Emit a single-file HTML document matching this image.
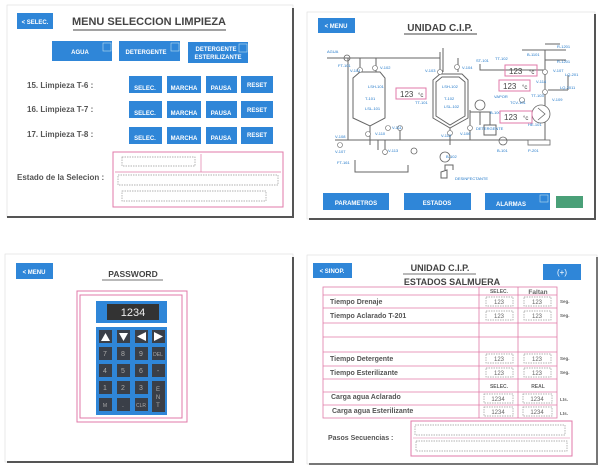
<!DOCTYPE html>
<html><head><meta charset="utf-8"><style>
html,body{margin:0;padding:0;background:#fff;width:600px;height:471px;overflow:hidden}
svg{display:block}
text{font-family:"Liberation Sans",Arial,sans-serif}
.b{fill:#2f86d8}
.bt{fill:#fff;font-weight:bold;font-size:6px}
.lb{fill:#555;font-weight:bold;font-size:8px}
.d{fill:#1e76c8;font-size:4px}
.pk{fill:none;stroke:#e07aa8;stroke-width:1}
.ds{fill:none;stroke:#999;stroke-width:.7;stroke-dasharray:1.5 1}
.pipe{stroke:#666;stroke-width:1;fill:none}
</style></head><body>
<svg width="600" height="471" viewBox="0 0 600 471" xmlns="http://www.w3.org/2000/svg">
<!-- Panel 1 -->
<rect x="7" y="5" width="286" height="212" fill="none" stroke="#ddd" stroke-width=".6"/>
<line x1="293" y1="8" x2="293" y2="218" stroke="#555" stroke-width="2"/>
<line x1="7" y1="217" x2="294" y2="217" stroke="#555" stroke-width="2"/>
<rect x="17" y="13" width="36" height="16" class="b"/>
<text x="35" y="24" text-anchor="middle" class="bt">&lt; SELEC.</text>
<text x="149" y="25" text-anchor="middle" font-size="11" font-weight="bold" fill="#444">MENU SELECCION LIMPIEZA</text>
<line x1="73" y1="30" x2="226" y2="30" stroke="#444" stroke-width="1"/>
<g>
<rect x="52" y="41" width="60" height="20" class="b"/><rect x="103" y="43" width="8" height="8" fill="none" stroke="#bde" stroke-width=".6"/>
<text x="80" y="54" text-anchor="middle" class="bt">AGUA</text>
<rect x="119" y="41" width="61" height="20" class="b"/><rect x="171" y="43" width="8" height="8" fill="none" stroke="#bde" stroke-width=".6"/>
<text x="146" y="54" text-anchor="middle" class="bt">DETERGENTE</text>
<rect x="188" y="42" width="60" height="21" class="b"/><rect x="239" y="44" width="8" height="8" fill="none" stroke="#bde" stroke-width=".6"/>
<text x="216" y="51" text-anchor="middle" class="bt">DETERGENTE</text>
<text x="218" y="59" text-anchor="middle" class="bt">ESTERILIZANTE</text>
</g>
<g class="lb">
<text x="27" y="88">15. Limpieza T-6 :</text>
<text x="27" y="112">16. Limpieza T-7 :</text>
<text x="27" y="137">17. Limpieza T-8 :</text>
<text x="17" y="180">Estado de la Selecion :</text>
</g>
<g>
<rect x="129" y="76" width="33" height="17" class="b"/><rect x="167" y="76" width="34" height="17" class="b"/><rect x="206" y="76" width="31" height="17" class="b"/><rect x="241" y="76" width="32" height="17" class="b"/>
<rect x="129" y="101" width="33" height="17" class="b"/><rect x="167" y="101" width="34" height="17" class="b"/><rect x="206" y="101" width="31" height="17" class="b"/><rect x="241" y="101" width="32" height="17" class="b"/>
<rect x="129" y="127" width="33" height="17" class="b"/><rect x="167" y="127" width="34" height="17" class="b"/><rect x="206" y="127" width="31" height="17" class="b"/><rect x="241" y="127" width="32" height="17" class="b"/>
<text x="145" y="90" text-anchor="middle" class="bt">SELEC.</text><text x="184" y="90" text-anchor="middle" class="bt">MARCHA</text><text x="221" y="90" text-anchor="middle" class="bt">PAUSA</text><text x="257" y="87" text-anchor="middle" class="bt">RESET</text>
<text x="145" y="115" text-anchor="middle" class="bt">SELEC.</text><text x="184" y="115" text-anchor="middle" class="bt">MARCHA</text><text x="221" y="115" text-anchor="middle" class="bt">PAUSA</text><text x="257" y="112" text-anchor="middle" class="bt">RESET</text>
<text x="145" y="140" text-anchor="middle" class="bt">SELEC.</text><text x="184" y="140" text-anchor="middle" class="bt">MARCHA</text><text x="221" y="140" text-anchor="middle" class="bt">PAUSA</text><text x="257" y="137" text-anchor="middle" class="bt">RESET</text>
</g>
<rect x="113" y="152" width="170" height="55" class="pk"/>
<line x1="115" y1="172" x2="281" y2="172" stroke="#e07aa8" stroke-width=".7"/>
<line x1="201" y1="154" x2="201" y2="172" stroke="#e07aa8" stroke-width=".7"/>
<rect x="122" y="157" width="73" height="9" class="ds"/>
<rect x="118" y="175" width="160" height="10" class="ds"/>
<rect x="122" y="191" width="144" height="10" class="ds"/>

<!-- Panel 2 -->
<rect x="307" y="12" width="288" height="207" fill="none" stroke="#ddd" stroke-width=".6"/>
<line x1="595" y1="14" x2="595" y2="220" stroke="#555" stroke-width="2"/>
<line x1="309" y1="219" x2="596" y2="219" stroke="#555" stroke-width="2"/>
<rect x="318" y="18" width="37" height="15" class="b"/>
<text x="336" y="28" text-anchor="middle" class="bt">&lt; MENU</text>
<text x="440" y="31" text-anchor="middle" font-size="10" font-weight="bold" fill="#444">UNIDAD C.I.P.</text>
<line x1="404" y1="34" x2="477" y2="34" stroke="#444" stroke-width="1"/>
<g class="pipe">
<path d="M327 58H440V52M348 58V140M360 58V72M376 58V72M440 58V72M458 58V72M443 48V72"/>
<path d="M353 78L360 72H380L385 78V118L370 126L353 118Z"/>
<path d="M433 80L440 74H462L468 80V118L450 128L433 118Z"/>
<path d="M436 82L442 77H459L465 82V116L450 125L436 116Z"/>
<path d="M335 140H545V50M545 70H480V64M522 50H566M545 44H560M545 60H566"/>
<path d="M370 126V145M400 128V140M450 128V145M470 110V140M480 112V125M378 140V150"/>
<path d="M385 140V155M355 160V172H408V165M545 100V140M548 90H568M568 75V90"/>
<path d="M470 112H490V125M490 125h-6v10h12v-10z"/>
<path d="M445 170v-5h8v5M447 170v8h-6v-6z"/>
</g>
<circle cx="347" cy="58" r="3" fill="none" stroke="#666" stroke-width=".8"/>
<circle cx="503" cy="141" r="4" fill="none" stroke="#666" stroke-width=".8"/>
<circle cx="541" cy="114" r="9" fill="#fff" stroke="#666" stroke-width=".8"/>
<path d="M538 108L545 114L538 120" stroke="#666" fill="none" stroke-width=".8"/>
<circle cx="480" cy="105" r="5" fill="#fff" stroke="#666" stroke-width=".8"/>
<circle cx="445" cy="157" r="5" fill="#fff" stroke="#666" stroke-width=".8"/>
<circle cx="414" cy="151" r="3" fill="#fff" stroke="#666" stroke-width=".8"/>
<rect x="528" y="140" width="22" height="5" fill="#fff" stroke="#666" stroke-width=".8"/>
<g fill="#fff" stroke="#666" stroke-width=".6">
<circle cx="360" cy="70" r="2.5"/><circle cx="375" cy="68" r="2.5"/><circle cx="440" cy="72" r="2.5"/><circle cx="457" cy="67" r="2.5"/><circle cx="400" cy="128" r="2.5"/><circle cx="388" cy="128" r="2.5"/><circle cx="368" cy="134" r="2.5"/><circle cx="450" cy="133" r="2.5"/><circle cx="470" cy="128" r="2.5"/><circle cx="340" cy="145" r="2.5"/><circle cx="385" cy="152" r="2.5"/><circle cx="545" cy="72" r="2.5"/><circle cx="545" cy="92" r="2.5"/><circle cx="522" cy="100" r="2.5"/>
</g>
<g class="d">
<text x="327" y="53">AGUA</text><text x="338" y="67">FT-101</text><text x="350" y="72">V-101</text><text x="380" y="69">V-102</text>
<text x="368" y="88">LSH-101</text><text x="365" y="100">T-101</text><text x="365" y="110">LSL-101</text>
<text x="425" y="72">V-103</text><text x="462" y="69">V-104</text><text x="476" y="62">ST-101</text><text x="495" y="60">TT-102</text>
<text x="442" y="88">LSH-102</text><text x="444" y="100">T-102</text><text x="444" y="108">LSL-102</text><text x="415" y="104">TT-101</text>
<text x="490" y="114">B-100</text><text x="476" y="130">DETERGENTE</text><text x="460" y="135">V-106</text>
<text x="375" y="135">V-110</text><text x="392" y="129">V-111</text><text x="441" y="137">V-112</text>
<text x="335" y="138">V-108</text><text x="335" y="153">V-107</text><text x="388" y="152">V-113</text>
<text x="337" y="164">FT-161</text><text x="446" y="158">B-102</text><text x="455" y="180">DESINFECTANTE</text>
<text x="497" y="152">B-101</text><text x="528" y="152">P-201</text><text x="528" y="126">HE-101</text>
<text x="527" y="56">B-1101</text><text x="557" y="48">R-1201</text><text x="557" y="63">R-1201</text>
<text x="553" y="72">V-107</text><text x="565" y="76">LQ-201</text><text x="536" y="83">V-114</text><text x="560" y="89">LQ-2011</text><text x="552" y="101">V-109</text>
<text x="494" y="98">VAPOR</text><text x="531" y="97">TT-103</text><text x="510" y="104">TCV-101</text>
</g>
<g>
<rect x="396" y="88" width="30" height="11" class="pk"/><text x="400" y="97" font-size="8" fill="#444">123</text><text x="418" y="97" font-size="6" fill="#444">°c</text>
<rect x="505" y="65" width="32" height="11" class="pk"/><text x="509" y="74" font-size="8" fill="#444">123</text><text x="529" y="74" font-size="6" fill="#444">°c</text>
<rect x="499" y="80" width="31" height="11" class="pk"/><text x="503" y="89" font-size="8" fill="#444">123</text><text x="522" y="89" font-size="6" fill="#444">°c</text>
<rect x="500" y="111" width="32" height="12" class="pk"/><text x="504" y="120" font-size="8" fill="#444">123</text><text x="523" y="120" font-size="6" fill="#444">°c</text>
</g>
<rect x="323" y="193" width="66" height="17" class="b"/><text x="356" y="205" text-anchor="middle" class="bt" font-size="7">PARAMETROS</text>
<rect x="404" y="193" width="67" height="17" class="b"/><text x="437" y="205" text-anchor="middle" class="bt" font-size="7">ESTADOS</text>
<rect x="485" y="193" width="65" height="17" class="b"/><text x="511" y="206" text-anchor="middle" class="bt" font-size="7">ALARMAS</text>
<rect x="540" y="195" width="8" height="7" fill="none" stroke="#bde" stroke-width=".6"/>
<rect x="556" y="196" width="27" height="12" fill="#4aa078"/>

<!-- Panel 3 -->
<rect x="5" y="254" width="288" height="208" fill="none" stroke="#ddd" stroke-width=".6"/>
<line x1="293" y1="257" x2="293" y2="463" stroke="#555" stroke-width="2"/>
<line x1="7" y1="462" x2="294" y2="462" stroke="#555" stroke-width="2"/>
<rect x="16" y="263" width="37" height="16" class="b"/>
<text x="34" y="274" text-anchor="middle" class="bt">&lt; MENU</text>
<text x="133" y="277" text-anchor="middle" font-size="8.5" font-weight="bold" fill="#444">PASSWORD</text>
<line x1="102" y1="280" x2="163" y2="280" stroke="#444" stroke-width=".8"/>
<rect x="77" y="291" width="110" height="131" class="pk"/>
<rect x="80" y="295" width="102" height="123" class="pk"/>
<rect x="96" y="301" width="71" height="22" class="b"/>
<rect x="107" y="304" width="52" height="16" fill="#333"/>
<text x="133" y="316" text-anchor="middle" font-size="11" fill="#eee" font-family="Liberation Mono">1234</text>
<rect x="96" y="327" width="71" height="88" class="b"/>
<g fill="#3a3f48">
<rect x="99" y="330" width="13" height="13"/><rect x="117" y="330" width="13" height="13"/><rect x="135" y="330" width="13" height="13"/><rect x="152" y="330" width="13" height="13"/>
<rect x="99" y="347" width="13" height="13"/><rect x="117" y="347" width="13" height="13"/><rect x="135" y="347" width="13" height="13"/><rect x="152" y="347" width="13" height="13"/>
<rect x="99" y="364" width="13" height="13"/><rect x="117" y="364" width="13" height="13"/><rect x="135" y="364" width="13" height="13"/><rect x="152" y="364" width="13" height="13"/>
<rect x="99" y="381" width="13" height="13"/><rect x="117" y="381" width="13" height="13"/><rect x="135" y="381" width="13" height="13"/><rect x="152" y="381" width="13" height="31"/>
<rect x="99" y="398" width="13" height="13"/><rect x="117" y="398" width="13" height="13"/><rect x="135" y="398" width="13" height="13"/>
</g>
<g fill="#fff"><path d="M101 341L105.5 333L110 341Z"/><path d="M119 333H128L123.5 341Z"/><path d="M137 336.5L146 332V341Z"/><path d="M154 332V341L163 336.5Z"/></g>
<g fill="#aaa" font-size="7" text-anchor="middle">
<text x="105" y="356">7</text><text x="123" y="356">8</text><text x="141" y="356">9</text><text x="158" y="356" font-size="5">DEL</text>
<text x="105" y="373">4</text><text x="123" y="373">5</text><text x="141" y="373">6</text><text x="158" y="373">-</text>
<text x="105" y="390">1</text><text x="123" y="390">2</text><text x="141" y="390">3</text>
<text x="105" y="407" font-size="5">M</text><text x="123" y="407">.</text><text x="141" y="407" font-size="5">CLR</text>
<text x="158" y="391" font-size="6">E</text><text x="158" y="399" font-size="6">N</text><text x="158" y="407" font-size="6">T</text>
</g>

<!-- Panel 4 -->
<rect x="307" y="255" width="290" height="209" fill="none" stroke="#ddd" stroke-width=".6"/>
<line x1="597" y1="257" x2="597" y2="465" stroke="#777" stroke-width="2"/>
<line x1="309" y1="464" x2="598" y2="464" stroke="#777" stroke-width="2"/>
<rect x="313" y="263" width="39" height="15" class="b"/>
<text x="332" y="273" text-anchor="middle" class="bt">&lt; SINOP.</text>
<rect x="543" y="264" width="38" height="16" class="b"/>
<text x="562" y="275" text-anchor="middle" fill="#fff" font-size="8">(+)</text>
<text x="440" y="271" text-anchor="middle" font-size="9" font-weight="bold" fill="#444">UNIDAD C.I.P.</text>
<line x1="403" y1="274" x2="476" y2="274" stroke="#444" stroke-width=".8"/>
<text x="452" y="285" text-anchor="middle" font-size="9" font-weight="bold" fill="#444">ESTADOS  SALMUERA</text>
<g stroke="#e07aa8" stroke-width=".8" fill="none">
<rect x="323" y="287" width="234" height="131"/>
<line x1="479" y1="287" x2="479" y2="418"/><line x1="518" y1="287" x2="518" y2="418"/>
<line x1="323" y1="295" x2="557" y2="295"/><line x1="323" y1="308" x2="557" y2="308"/><line x1="323" y1="323" x2="557" y2="323"/>
<line x1="323" y1="337" x2="557" y2="337"/><line x1="323" y1="352" x2="557" y2="352"/><line x1="323" y1="366" x2="557" y2="366"/>
<line x1="323" y1="379" x2="557" y2="379"/><line x1="323" y1="392" x2="557" y2="392"/><line x1="323" y1="405" x2="557" y2="405"/>
</g>
<g font-size="7" font-weight="bold" fill="#555">
<text x="330" y="304">Tiempo Drenaje</text>
<text x="330" y="318">Tiempo Aclarado  T-201</text>
<text x="330" y="361">Tiempo Detergente</text>
<text x="330" y="375">Tiempo Esterilizante</text>
<text x="331" y="399">Carga agua Aclarado</text>
<text x="332" y="413">Carga agua Esterilizante</text>
<text x="328" y="440">Pasos Secuencias :</text>
</g>
<g font-size="5" font-weight="bold" fill="#666" text-anchor="middle">
<text x="499" y="293">SELEC.</text><text x="538" y="294" font-size="6.5">Faltan</text>
<text x="499" y="388">SELEC.</text><text x="538" y="388">REAL</text>
</g>
<g font-size="4.5" font-weight="bold" fill="#666">
<text x="560" y="303">Seg.</text><text x="560" y="317">Seg.</text><text x="560" y="360">Seg.</text><text x="560" y="374">Seg.</text><text x="560" y="401">Lts.</text><text x="560" y="415">Lts.</text>
</g>
<g class="ds">
<rect x="486" y="297" width="27" height="9"/><rect x="524" y="297" width="27" height="9"/>
<rect x="486" y="311" width="27" height="9"/><rect x="524" y="311" width="27" height="9"/>
<rect x="486" y="354" width="27" height="9"/><rect x="524" y="354" width="27" height="9"/>
<rect x="486" y="368" width="27" height="9"/><rect x="524" y="368" width="27" height="9"/>
<rect x="484" y="394" width="29" height="9"/><rect x="523" y="394" width="29" height="9"/>
<rect x="484" y="407" width="29" height="9"/><rect x="523" y="407" width="29" height="9"/>
</g>
<g font-size="6" fill="#666" text-anchor="middle" font-family="Liberation Serif">
<text x="499" y="304">123</text><text x="537" y="304">123</text><text x="499" y="318">123</text><text x="537" y="318">123</text>
<text x="499" y="361">123</text><text x="537" y="361">123</text><text x="499" y="375">123</text><text x="537" y="375">123</text>
<text x="498" y="401">1234</text><text x="537" y="401">1234</text><text x="498" y="414">1234</text><text x="537" y="414">1234</text>
</g>
<rect x="411" y="421" width="161" height="35" class="pk"/>
<line x1="413" y1="438" x2="570" y2="438" stroke="#e07aa8" stroke-width=".6"/>
<rect x="415" y="425" width="150" height="10" class="ds"/>
<rect x="416" y="441" width="151" height="10" class="ds"/>
</svg>
</body></html>
